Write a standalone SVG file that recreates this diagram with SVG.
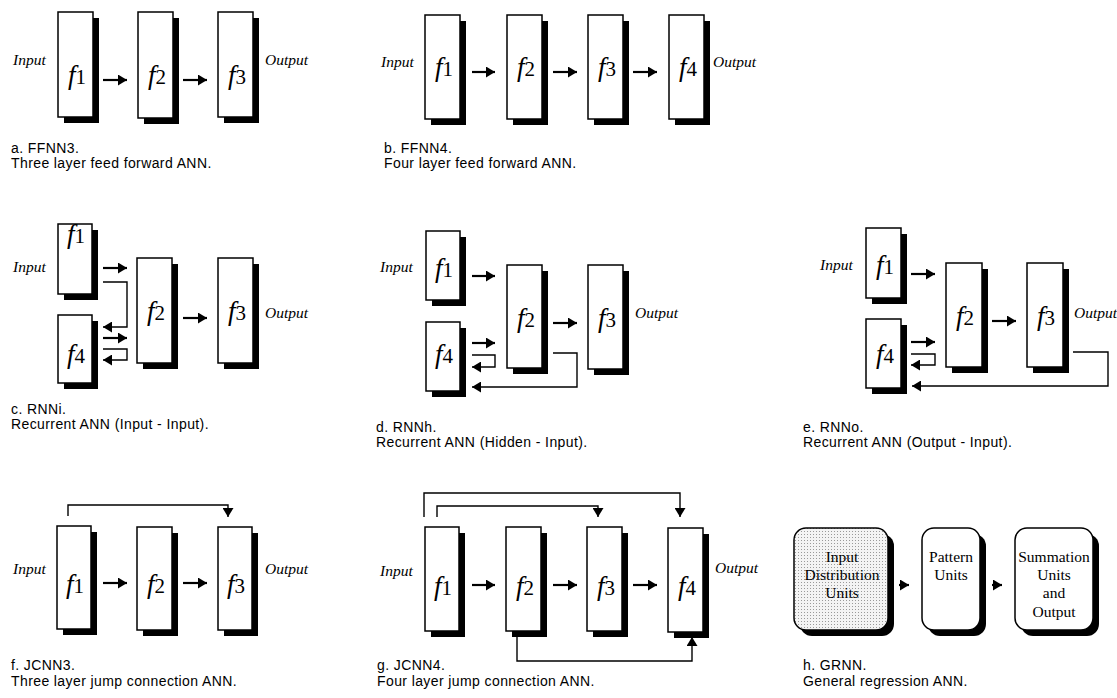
<svg xmlns="http://www.w3.org/2000/svg" width="1117" height="698" viewBox="0 0 1117 698">
<style>
.box{fill:#fff;stroke:#000;stroke-width:1.5}
.sh{fill:#000}
.fl{font-family:"Liberation Serif",serif;text-anchor:middle;fill:#000}
.fi{font-style:italic;font-size:27px}
.sb{font-size:21px}
.io{font-family:"Liberation Serif",serif;font-style:italic;font-size:15.5px;fill:#000}
.cap{font-family:"Liberation Sans",Arial,sans-serif;font-size:14px;letter-spacing:0.4px;fill:#000}
.ar{fill:none;stroke:#000;stroke-width:2.2;marker-end:url(#ah)}
.ln{fill:none;stroke:#000;stroke-width:1.4;marker-end:url(#ah)}
.gt{font-family:"Liberation Serif",serif;font-size:15.5px;text-anchor:middle;fill:#000}
</style>
<defs>
<marker id="ah" markerUnits="userSpaceOnUse" markerWidth="10" markerHeight="11" refX="9" refY="5.5" orient="auto">
<path d="M0,0 L9,5.5 L0,11 z" fill="#000"/>
</marker>
<pattern id="dots" width="3" height="3" patternUnits="userSpaceOnUse">
<rect width="3" height="3" fill="#f4f4f4"/>
<rect x="0" y="0" width="1" height="1" fill="#9a9a9a"/>
</pattern>
</defs>
<rect width="1117" height="698" fill="#fff"/>

<!-- Panel a -->
<g id="a-f1"><rect class="sh" x="64" y="18" width="35" height="105"/><rect class="box" x="58" y="12" width="35" height="105"/><text class="fl" x="77" y="84"><tspan class="fi">f</tspan><tspan class="sb">1</tspan></text></g>
<g id="a-f2"><rect class="sh" x="144" y="18" width="35" height="106"/><rect class="box" x="138" y="12" width="35" height="106"/><text class="fl" x="157" y="84"><tspan class="fi">f</tspan><tspan class="sb">2</tspan></text></g>
<g id="a-f3"><rect class="sh" x="224" y="18" width="35" height="105"/><rect class="box" x="218" y="12" width="35" height="105"/><text class="fl" x="237" y="84"><tspan class="fi">f</tspan><tspan class="sb">3</tspan></text></g>
<text class="io" x="13" y="65">Input</text>
<text class="io" x="265" y="65">Output</text>
<text class="cap" x="11" y="153">a.  FFNN3.</text>
<text class="cap" x="11" y="168">Three layer feed forward ANN.</text>

<!-- Panel b -->
<g id="b-f1"><rect class="sh" x="431" y="21" width="35" height="104"/><rect class="box" x="425" y="15" width="35" height="104"/><text class="fl" x="444" y="76"><tspan class="fi">f</tspan><tspan class="sb">1</tspan></text></g>
<g id="b-f2"><rect class="sh" x="513" y="21" width="35" height="104"/><rect class="box" x="507" y="15" width="35" height="104"/><text class="fl" x="526" y="76"><tspan class="fi">f</tspan><tspan class="sb">2</tspan></text></g>
<g id="b-f3"><rect class="sh" x="594" y="21" width="35" height="104"/><rect class="box" x="588" y="15" width="35" height="104"/><text class="fl" x="607" y="76"><tspan class="fi">f</tspan><tspan class="sb">3</tspan></text></g>
<g id="b-f4"><rect class="sh" x="675" y="21" width="35" height="104"/><rect class="box" x="669" y="15" width="35" height="104"/><text class="fl" x="688" y="76"><tspan class="fi">f</tspan><tspan class="sb">4</tspan></text></g>
<text class="io" x="381" y="67">Input</text>
<text class="io" x="713" y="67">Output</text>
<text class="cap" x="384" y="153">b.  FFNN4.</text>
<text class="cap" x="384" y="168">Four layer feed forward ANN.</text>

<!-- Panel c -->
<g id="c-f1"><rect class="sh" x="64" y="230" width="34" height="70"/><rect class="box" x="58" y="224" width="34" height="70"/><text class="fl" x="76" y="243"><tspan class="fi">f</tspan><tspan class="sb">1</tspan></text></g>
<g id="c-f4"><rect class="sh" x="64" y="321" width="34" height="68"/><rect class="box" x="58" y="315" width="34" height="68"/><text class="fl" x="76" y="363"><tspan class="fi">f</tspan><tspan class="sb">4</tspan></text></g>
<g id="c-f2"><rect class="sh" x="143" y="264" width="35" height="105"/><rect class="box" x="137" y="258" width="35" height="105"/><text class="fl" x="156" y="320"><tspan class="fi">f</tspan><tspan class="sb">2</tspan></text></g>
<g id="c-f3"><rect class="sh" x="224" y="264" width="35" height="105"/><rect class="box" x="218" y="258" width="35" height="105"/><text class="fl" x="237" y="320"><tspan class="fi">f</tspan><tspan class="sb">3</tspan></text></g>
<text class="io" x="13" y="272">Input</text>
<text class="io" x="265" y="318">Output</text>
<text class="cap" x="11" y="414">c.  RNNi.</text>
<text class="cap" x="11" y="429">Recurrent ANN (Input - Input).</text>

<!-- Panel d -->
<g id="d-f1"><rect class="sh" x="432" y="237" width="34" height="69"/><rect class="box" x="426" y="231" width="34" height="69"/><text class="fl" x="444" y="277"><tspan class="fi">f</tspan><tspan class="sb">1</tspan></text></g>
<g id="d-f4"><rect class="sh" x="432" y="328" width="34" height="69"/><rect class="box" x="426" y="322" width="34" height="69"/><text class="fl" x="444" y="363"><tspan class="fi">f</tspan><tspan class="sb">4</tspan></text></g>
<g id="d-f2"><rect class="sh" x="513" y="271" width="35" height="103"/><rect class="box" x="507" y="265" width="35" height="103"/><text class="fl" x="526" y="327"><tspan class="fi">f</tspan><tspan class="sb">2</tspan></text></g>
<g id="d-f3"><rect class="sh" x="594" y="271" width="35" height="104"/><rect class="box" x="588" y="265" width="35" height="104"/><text class="fl" x="607" y="327"><tspan class="fi">f</tspan><tspan class="sb">3</tspan></text></g>
<text class="io" x="380" y="272">Input</text>
<text class="io" x="635" y="318">Output</text>
<text class="cap" x="376" y="432">d.  RNNh.</text>
<text class="cap" x="376" y="447">Recurrent ANN (Hidden - Input).</text>

<!-- Panel e -->
<g id="e-f1"><rect class="sh" x="872" y="234" width="35" height="70"/><rect class="box" x="866" y="228" width="35" height="70"/><text class="fl" x="885" y="274"><tspan class="fi">f</tspan><tspan class="sb">1</tspan></text></g>
<g id="e-f4"><rect class="sh" x="872" y="325" width="35" height="69"/><rect class="box" x="866" y="319" width="35" height="69"/><text class="fl" x="885" y="363"><tspan class="fi">f</tspan><tspan class="sb">4</tspan></text></g>
<g id="e-f2"><rect class="sh" x="952" y="269" width="36" height="104"/><rect class="box" x="946" y="263" width="36" height="104"/><text class="fl" x="965" y="325"><tspan class="fi">f</tspan><tspan class="sb">2</tspan></text></g>
<g id="e-f3"><rect class="sh" x="1033" y="269" width="36" height="104"/><rect class="box" x="1027" y="263" width="36" height="104"/><text class="fl" x="1046" y="325"><tspan class="fi">f</tspan><tspan class="sb">3</tspan></text></g>
<text class="io" x="820" y="270">Input</text>
<text class="io" x="1074" y="318">Output</text>
<text class="cap" x="803" y="432">e.  RNNo.</text>
<text class="cap" x="803" y="447">Recurrent ANN (Output - Input).</text>

<!-- Panel f -->
<g id="f-f1"><rect class="sh" x="63" y="532" width="34" height="103"/><rect class="box" x="57" y="526" width="34" height="103"/><text class="fl" x="75" y="593"><tspan class="fi">f</tspan><tspan class="sb">1</tspan></text></g>
<g id="f-f2"><rect class="sh" x="143" y="533" width="35" height="103"/><rect class="box" x="137" y="527" width="35" height="103"/><text class="fl" x="156" y="593"><tspan class="fi">f</tspan><tspan class="sb">2</tspan></text></g>
<g id="f-f3"><rect class="sh" x="224" y="533" width="34" height="103"/><rect class="box" x="218" y="527" width="34" height="103"/><text class="fl" x="236" y="593"><tspan class="fi">f</tspan><tspan class="sb">3</tspan></text></g>
<text class="io" x="13" y="574">Input</text>
<text class="io" x="265" y="574">Output</text>
<text class="cap" x="11" y="670">f.  JCNN3.</text>
<text class="cap" x="11" y="686">Three layer jump connection ANN.</text>

<!-- Panel g -->
<g id="g-f1"><rect class="sh" x="431" y="533" width="34" height="104"/><rect class="box" x="425" y="527" width="34" height="104"/><text class="fl" x="443" y="595"><tspan class="fi">f</tspan><tspan class="sb">1</tspan></text></g>
<g id="g-f2"><rect class="sh" x="512" y="533" width="35" height="104"/><rect class="box" x="506" y="527" width="35" height="104"/><text class="fl" x="525" y="595"><tspan class="fi">f</tspan><tspan class="sb">2</tspan></text></g>
<g id="g-f3"><rect class="sh" x="593" y="533" width="35" height="104"/><rect class="box" x="587" y="527" width="35" height="104"/><text class="fl" x="606" y="595"><tspan class="fi">f</tspan><tspan class="sb">3</tspan></text></g>
<g id="g-f4"><rect class="sh" x="674" y="534" width="35" height="104"/><rect class="box" x="668" y="528" width="35" height="104"/><text class="fl" x="687" y="595"><tspan class="fi">f</tspan><tspan class="sb">4</tspan></text></g>
<text class="io" x="380" y="576">Input</text>
<text class="io" x="715" y="573">Output</text>
<text class="cap" x="377" y="670">g.  JCNN4.</text>
<text class="cap" x="377" y="686">Four layer jump connection ANN.</text>

<!-- Panel h -->
<g id="h-input"><rect class="sh" x="800" y="534" width="94" height="102" rx="12"/><rect x="794" y="528" width="94" height="102" rx="12" fill="url(#dots)" stroke="#000" stroke-width="1.5"/><text class="gt" x="842" y="562">Input</text><text class="gt" x="842" y="580">Distribution</text><text class="gt" x="842" y="598">Units</text></g>
<g id="h-pattern"><rect class="sh" x="928" y="534" width="58" height="102" rx="12"/><rect class="box" x="922" y="528" width="58" height="102" rx="12"/><text class="gt" x="951" y="562">Pattern</text><text class="gt" x="951" y="580">Units</text></g>
<g id="h-summation"><rect class="sh" x="1021" y="534" width="78" height="102" rx="12"/><rect class="box" x="1015" y="528" width="78" height="102" rx="12"/><text class="gt" x="1054" y="562">Summation</text><text class="gt" x="1054" y="580">Units</text><text class="gt" x="1054" y="598">and</text><text class="gt" x="1054" y="617">Output</text></g>
<text class="cap" x="803" y="670">h.  GRNN.</text>
<text class="cap" x="803" y="686">General regression ANN.</text>

<g id="connectors">
<path class="ar" d="M103,80 H127"/>
<path class="ar" d="M183,80 H207"/>
<path class="ar" d="M472,72 H495"/>
<path class="ar" d="M553,72 H577"/>
<path class="ar" d="M633,72 H657"/>
<path class="ar" d="M103,268 H127"/>
<path class="ln" d="M103,282 H127 V327 H103"/>
<path class="ar" d="M103,338 H127"/>
<path class="ln" d="M103,349 H127 V360 H103"/>
<path class="ar" d="M183,318 H207"/>
<path class="ar" d="M472,276 H495"/>
<path class="ar" d="M553,323 H577"/>
<path class="ar" d="M472,343 H495"/>
<path class="ln" d="M472,355 H495 V367 H472"/>
<path class="ln" d="M553,353 H577 V387 H472"/>
<path class="ar" d="M911,274 H935"/>
<path class="ar" d="M992,321 H1016"/>
<path class="ar" d="M911,342 H935"/>
<path class="ln" d="M911,354 H935 V365 H911"/>
<path class="ln" d="M1073,352 H1108 V386 H912"/>
<path class="ar" d="M103,583 H127"/>
<path class="ar" d="M183,583 H207"/>
<path class="ln" d="M68,516 V505 H228 V517"/>
<path class="ar" d="M472,585 H495"/>
<path class="ar" d="M553,585 H577"/>
<path class="ar" d="M633,585 H657"/>
<path class="ln" d="M424,517 V493 H680 V517"/>
<path class="ln" d="M437,517 V506 H598 V517"/>
<path class="ln" d="M517,637 V661 H692 V637"/>
<path class="ar" d="M899,585 H909"/>
<path class="ar" d="M992,585 H1002"/>
</g>
</svg>
